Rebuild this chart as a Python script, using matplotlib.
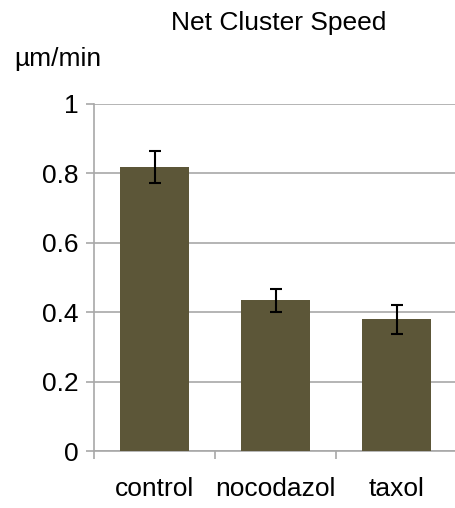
import numpy as np
import matplotlib
matplotlib.use("Agg")
import matplotlib.pyplot as plt
from matplotlib.ticker import FixedLocator

categories = ["control", "nocodazol", "taxol"]
speed = [0.818, 0.434, 0.380]
speed_err = [0.047, 0.032, 0.042]
yticks = [0, 0.2, 0.4, 0.6, 0.8, 1]
ytick_labels = ["0", "0.2", "0.4", "0.6", "0.8", "1"]

plt.rcParams["font.family"] = ["Liberation Sans", "DejaVu Sans"]
BAR = "#5c5638"
GRID = "#a8a8a8"

fig = plt.figure(figsize=(4.55, 5.08), dpi=100)
ax = fig.add_axes([0.2066, 0.1122, 0.7978, 0.6831])

x = np.arange(len(categories))
ax.bar(x, speed, width=0.57, color=BAR, zorder=3)
ax.errorbar(x, speed, yerr=speed_err, fmt="none", ecolor="black",
            elinewidth=1.5, capsize=4, capthick=1.5, zorder=4)

ax.set_xlim(-0.5, 2.5)
ax.set_ylim(0, 1)
ax.set_yticks(yticks)
ax.set_yticklabels(ytick_labels)
ax.yaxis.grid(True, color=GRID, lw=1.2, zorder=0)
ax.set_axisbelow(True)

# category labels at centres, tick marks on the boundaries
ax.set_xticks(x)
ax.set_xticklabels(categories)
ax.xaxis.set_minor_locator(FixedLocator([-0.5, 0.5, 1.5]))
ax.tick_params(axis="x", which="major", length=0, pad=19, labelsize=19)
ax.tick_params(axis="x", which="minor", length=6, width=1.2, color=GRID)
ax.tick_params(axis="y", length=6, width=1.2, color=GRID, pad=5, labelsize=19)

for s in ("top", "right"):
    ax.spines[s].set_visible(False)
for s in ("left", "bottom"):
    ax.spines[s].set_color(GRID)
    ax.spines[s].set_linewidth(1.2)

fig.text(0.613, 1 - 23 / 508, "Net Cluster Speed", ha="center", va="center", fontsize=19)
fig.text(0.032, 1 - 59 / 508, "µm/min", ha="left", va="center", fontsize=19)

fig.savefig("out.png", dpi=100)
